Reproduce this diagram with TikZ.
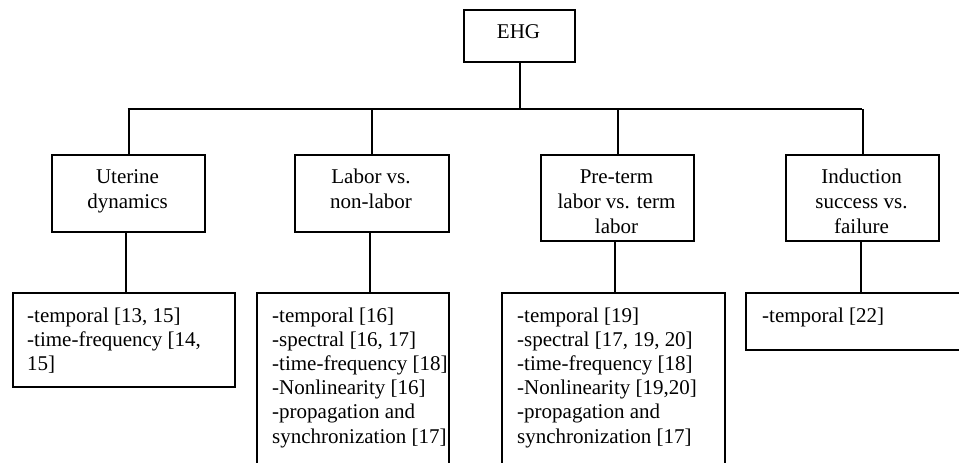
\documentclass[tikz,border=0pt]{standalone}
\usepackage{fontspec}
\setmainfont{Liberation Serif}
\begin{document}
\begin{tikzpicture}[x=1pt,y=-1pt,
  box/.style={draw, line width=2pt, inner sep=0pt, anchor=north west},
  lab/.style={font=\fontsize{21}{25}\selectfont, align=center, anchor=base, inner sep=0pt},
  item/.style={font=\fontsize{21}{24.2}\selectfont, align=left, anchor=base west, inner sep=0pt},
  conn/.style={line width=2pt}]
\clip (0,0) rectangle (959,463);
\fill[white] (0,0) rectangle (959,463);
% boxes
\node[box, minimum width=111pt, minimum height=52pt] (ehg) at (463,9) {};
\node[box, minimum width=153pt, minimum height=77pt] (uter) at (51,154) {};
\node[box, minimum width=154pt, minimum height=77pt] (labor) at (294,154) {};
\node[box, minimum width=153pt, minimum height=86pt] (pret) at (540,154) {};
\node[box, minimum width=153pt, minimum height=86pt] (induc) at (785,154) {};
\node[box, minimum width=222pt, minimum height=94pt] (ut3) at (12,292) {};
\node[box, minimum width=192pt, minimum height=200pt] (lab3) at (256,292) {};
\node[box, minimum width=223pt, minimum height=200pt] (pre3) at (501,292) {};
\node[box, minimum width=240pt, minimum height=57pt] (ind3) at (745,292) {};
% labels (anchor=base is the baseline of the last line)
\node[lab] (tehg) at (518.5,38) {EHG};
\node[lab] (tuter) at (127.5,208) {Uterine\\dynamics};
\node[lab] (tlabor) at (371,208) {Labor vs.\\non-labor};
\node[lab] (tpret) at (616.5,233) {Pre-term\\labor vs. term\\labor};
\node[lab] (tinduc) at (861.5,233) {Induction\\success vs.\\failure};
\node[item] (tut3) at (27,370.4) {-temporal [13, 15]\\-time-frequency [14,\\15]};
\node[item] (tlab3) at (272,443) {-temporal [16]\\-spectral [16, 17]\\-time-frequency [18]\\-Nonlinearity [16]\\-propagation and\\synchronization [17]};
\node[item] (tpre3) at (517,443) {-temporal [19]\\-spectral [17, 19, 20]\\-time-frequency [18]\\-Nonlinearity [19,20]\\-propagation and\\synchronization [17]};
\node[item] (tind3) at (762,322) {-temporal [22]};
% connectors
\coordinate (busL) at (127.5,109);
\coordinate (busR) at (861.5,109);
\draw[conn] (busL) -- (busR);
\draw[conn] (ehg.south) -- (ehg.south |- busL);
\draw[conn] (uter.north) -- (uter.north |- busL);
\draw[conn] (labor.north) -- (labor.north |- busL);
\draw[conn] (pret.north) -- (pret.north |- busL);
\draw[conn] (induc.north) -- (induc.north |- busL);
\draw[conn] ([xshift=-3pt]uter.south) -- ([xshift=-3pt]uter.south |- ut3.north);
\draw[conn] ([xshift=-2pt]labor.south) -- ([xshift=-2pt]labor.south |- lab3.north);
\draw[conn] ([xshift=-3pt]pret.south) -- ([xshift=-3pt]pret.south |- pre3.north);
\draw[conn] ([xshift=-2pt]induc.south) -- ([xshift=-2pt]induc.south |- ind3.north);
\end{tikzpicture}
\end{document}
